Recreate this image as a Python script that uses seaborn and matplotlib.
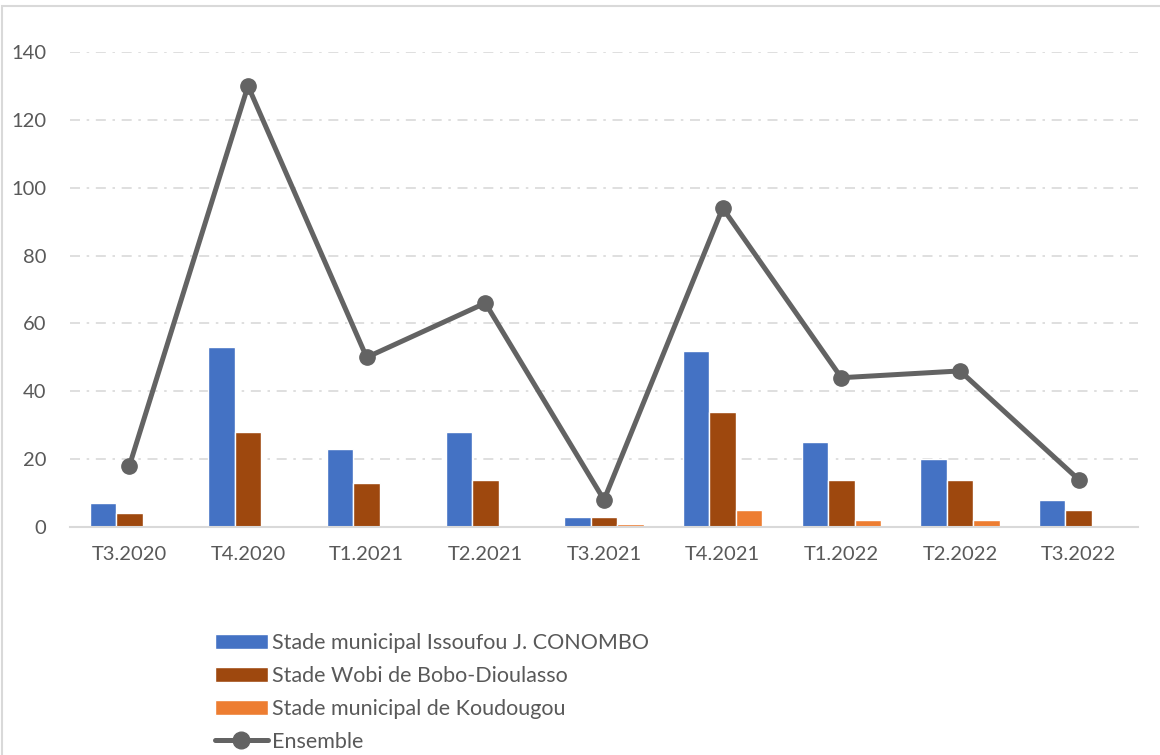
import matplotlib
matplotlib.use("Agg")
import matplotlib.pyplot as plt
from matplotlib.patches import Rectangle
from matplotlib.lines import Line2D
import seaborn as sns
import pandas as pd

trimestres = ["T3.2020", "T4.2020", "T1.2021", "T2.2021", "T3.2021",
              "T4.2021", "T1.2022", "T2.2022", "T3.2022"]
stades = ["Stade municipal Issoufou J. CONOMBO",
          "Stade Wobi de Bobo-Dioulasso",
          "Stade municipal de Koudougou"]
issoufou = [7, 53, 23, 28, 3, 52, 25, 20, 8]
wobi = [4, 28, 13, 14, 3, 34, 14, 14, 5]
koudougou = [0, 0, 0, 0, 1, 5, 2, 2, 0]
ensemble = [18, 130, 50, 66, 8, 94, 44, 46, 14]

couleurs = ["#4472C4", "#9E480E", "#ED7D31"]
gris_ligne = "#636363"
gris_texte = "#595959"
gris_grille = "#D9D9D9"

# table longue pour seaborn
df = pd.DataFrame({
    "trimestre": trimestres * 3,
    "stade": [stades[0]] * 9 + [stades[1]] * 9 + [stades[2]] * 9,
    "valeur": issoufou + wobi + koudougou,
})

sns.set_theme(style="white")
plt.rcParams["font.family"] = ["Lato", "DejaVu Sans"]

fig = plt.figure(figsize=(11.6, 7.55), dpi=100)
ax = fig.add_axes([70 / 1160, 1 - 527 / 755, 1068 / 1160, 475 / 755])

# cadre extérieur
fig.patches.append(Rectangle((2 / 1160, -0.05), 1.1, 1 - 6 / 755 + 0.05,
                             transform=fig.transFigure, fill=False,
                             edgecolor=gris_grille, linewidth=1.5))

sns.barplot(data=df, x="trimestre", y="valeur", hue="stade", order=trimestres,
            hue_order=stades, palette=couleurs, width=0.667, gap=0,
            saturation=1, ax=ax, legend=True)

ax.plot(range(len(trimestres)), ensemble, color=gris_ligne, linewidth=3.6,
        marker="o", markersize=11, label="Ensemble", zorder=5, clip_on=False)

ax.set_ylim(0, 140)
ax.set_xlim(-0.5, len(trimestres) - 0.5)
ax.set_yticks(range(0, 141, 20))
for y in range(20, 141, 20):
    ax.axhline(y, color=gris_grille, linewidth=1.2,
               linestyle=(0, (6, 4, 1.5, 4)), zorder=0)
for s in ["top", "right", "left"]:
    ax.spines[s].set_visible(False)
ax.spines["bottom"].set_color(gris_grille)
ax.spines["bottom"].set_linewidth(1.5)
ax.tick_params(axis="both", length=0, labelsize=14.5, colors=gris_texte)
ax.tick_params(axis="y", pad=17)
ax.tick_params(axis="x", pad=14)
ax.set_xlabel("")
ax.set_ylabel("")

handles, labels = ax.get_legend_handles_labels()
handles = [h for h, l in zip(handles, labels) if l in stades]
handles.append(Line2D([], [], color=gris_ligne, linewidth=3.6, marker="o",
                      markersize=12))
ax.legend(handles, stades + ["Ensemble"], loc="upper left",
          bbox_to_anchor=(204 / 1160, 1 - 622 / 755),
          bbox_transform=fig.transFigure, frameon=False, fontsize=15.5,
          labelcolor=gris_texte, handlelength=2.45, handleheight=0.7,
          handletextpad=0.2, labelspacing=0.6, borderpad=0)

fig.savefig("out.png", dpi=100)
